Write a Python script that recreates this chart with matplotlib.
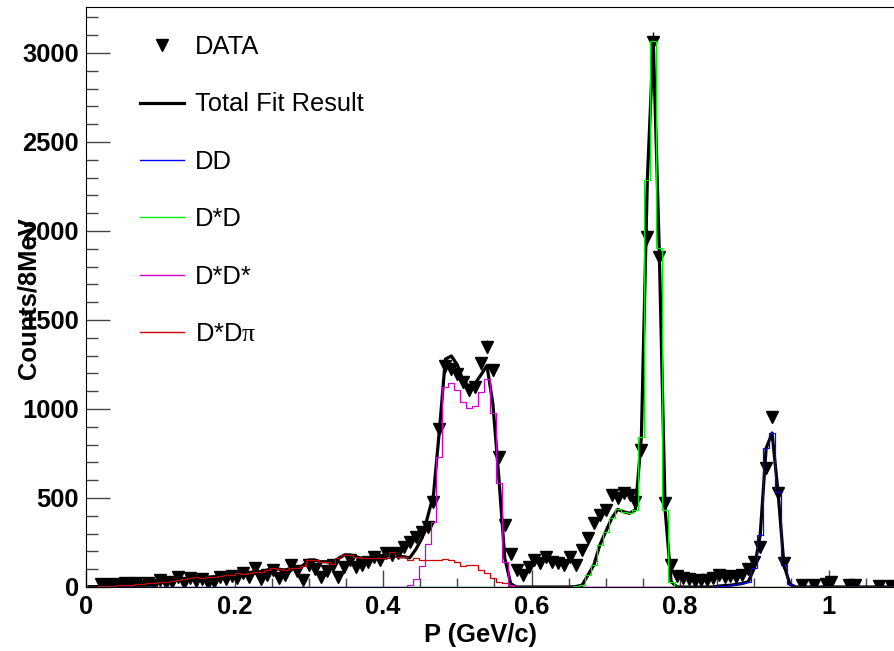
import numpy as np
import matplotlib.pyplot as plt
from matplotlib.lines import Line2D
from matplotlib.ticker import MultipleLocator, FormatStrFormatter

plt.rcParams['font.family'] = ['Liberation Sans', 'DejaVu Sans']
plt.rcParams['mathtext.fontset'] = 'custom'
plt.rcParams['mathtext.rm'] = 'Liberation Serif'

# Binning: 8 MeV bins
bin_width = 0.008
n_bins = 138
edges = np.arange(n_bins + 1) * bin_width
centers = edges[:-1] + bin_width / 2

# Data counts per bin (None = empty bin, no marker)
counts = [None, None, 15, 5, 18, 3, 20, 5, 22, 8,
          25, 10, 40, 20, 30, 55, 25, 50, 35, 45,
          20, 30, 55, 45, 60, 50, 77, 55, 105, 45,
          70, 95, 50, 70, 124, 90, 40, 124, 100, 58,
          90, 124, 58, 110, 152, 114, 124, 142, 170, 150,
          189, 180, 189, 226, 255, 283, 311, 339, 480, 890,
          1240, 1225, 1195, 1150, 1105, 1125, 1257, 1350, 1219, 732,
          348, 185, 95, 67, 114, 152, 133, 170, 142, 133,
          124, 170, 124, 208, 274, 358, 405, 433, 517, 498,
          526, 517, 479, 770, 1968, 3063, 1856, 470, 124, 60,
          50, 45, 35, 40, 40, 50, 65, 55, 60, 55,
          70, 100, 142, 226, 667, 957, 526, 133, None, None,
          10, None, 12, None, 15, 30, None, None, 12, 10,
          None, None, None, 8, None, 8, None, None]

# Fit components: first bin index and bin contents
dd_first = 106
dd = [5, 8, 10, 15, 20, 30, 105, 292, 779, 865, 535, 124, 15]

dstd_first = 82
dstd = [3, 10, 67, 124, 236, 311, 386, 436, 423, 414, 433, 845, 2286, 3068, 1905, 432, 30]

dstdst_first = 54
dstdst = [12, 45, 118, 240, 367, 732, 1125, 1148, 1107, 1041, 1004, 1019, 1097, 1167, 979, 586, 142, 10]

dstdpi_first = 0
dstdpi = [2, 2, 3, 5, 8, 10, 10, 12, 15, 18, 21, 25, 28, 30, 35, 39, 45, 49, 58, 52,
          55, 58, 62, 67, 67, 77, 72, 80, 86, 86, 95, 105, 100, 95, 105, 105, 120, 152,
          152, 142, 142, 130, 161, 180, 180, 170, 161, 161, 161, 161, 165, 198, 170, 170,
          152, 165, 152, 152, 152, 150, 155, 150, 142, 116, 124, 124, 95, 77, 49, 30, 21, 8]


def full_hist(first, vals):
    h = np.zeros(n_bins)
    h[first:first + len(vals)] = vals
    return h


h_dd = full_hist(dd_first, dd)
h_dstd = full_hist(dstd_first, dstd)
h_dstdst = full_hist(dstdst_first, dstdst)
h_dstdpi = full_hist(dstdpi_first, dstdpi)
total = h_dd + h_dstd + h_dstdst + h_dstdpi

y = np.array([np.nan if c is None else c for c in counts], dtype=float)
m = ~np.isnan(y)

fig = plt.figure(figsize=(8.94, 6.51), dpi=100)
ax = fig.add_axes([86 / 894, 1 - 587 / 651, 1 - 86 / 894, 580 / 651])

ax.errorbar(centers[m], y[m], yerr=np.sqrt(y[m]), fmt='v', color='k', ms=8,
            elinewidth=1, capsize=0, zorder=2)
ax.plot(centers, total, color='k', lw=2.3, zorder=3)

c_dd, c_dstd, c_dstdst, c_dstdpi = '#0000ff', '#00ee00', '#cc00cc', '#cc0000'
ax.stairs(h_dstdpi, edges, color=c_dstdpi, lw=0.9, zorder=4)
ax.stairs(h_dstdst, edges, color=c_dstdst, lw=0.9, zorder=4)
ax.stairs(h_dstd, edges, color=c_dstd, lw=0.9, zorder=4)
ax.stairs(h_dd, edges, color=c_dd, lw=0.9, zorder=4)

ax.set_xlim(0, 808 / 742.5)
ax.set_ylim(0, 580 / 89 * 500)

ax.xaxis.set_major_locator(MultipleLocator(0.2))
ax.xaxis.set_minor_locator(MultipleLocator(0.05))
ax.yaxis.set_major_locator(MultipleLocator(500))
ax.yaxis.set_minor_locator(MultipleLocator(100))
ax.xaxis.set_major_formatter(FormatStrFormatter('%g'))

ax.tick_params(axis='both', which='both', direction='in', color='#444444', width=1,
               labelsize=18.4)
ax.tick_params(axis='x', which='major', length=12.2, pad=6)
ax.tick_params(axis='x', which='minor', length=6.5)
ax.tick_params(axis='y', which='major', length=17.3, pad=5)
ax.tick_params(axis='y', which='minor', length=8.6)
for lab in ax.get_xticklabels() + ax.get_yticklabels():
    lab.set_fontweight('bold')

ax.spines['right'].set_visible(False)

ax.set_xlabel('P (GeV/c)', fontsize=18.4, fontweight='bold')
ax.xaxis.set_label_coords(0.488, -0.062)
ax.set_ylabel('Counts/8MeV', fontsize=18.4, fontweight='bold')
ax.yaxis.set_label_coords(-0.056, 0.498)

handles = [Line2D([], [], marker='v', ls='none', color='k', ms=8),
           Line2D([], [], color='k', lw=2.3),
           Line2D([], [], color=c_dd, lw=1),
           Line2D([], [], color=c_dstd, lw=1),
           Line2D([], [], color=c_dstdst, lw=1),
           Line2D([], [], color=c_dstdpi, lw=1)]
labels = ['DATA', 'Total Fit Result', 'DD', 'D*D', 'D*D*', r'D*D$\mathrm{\pi}$']
ax.legend(handles, labels, loc='upper left', bbox_to_anchor=(140 / 894, 1 - 35 / 651),
          bbox_transform=fig.transFigure, frameon=False, fontsize=18.4,
          handlelength=1.72, handletextpad=0.43, labelspacing=1.31,
          borderpad=0, borderaxespad=0)

fig.savefig('out.png', dpi=100)
